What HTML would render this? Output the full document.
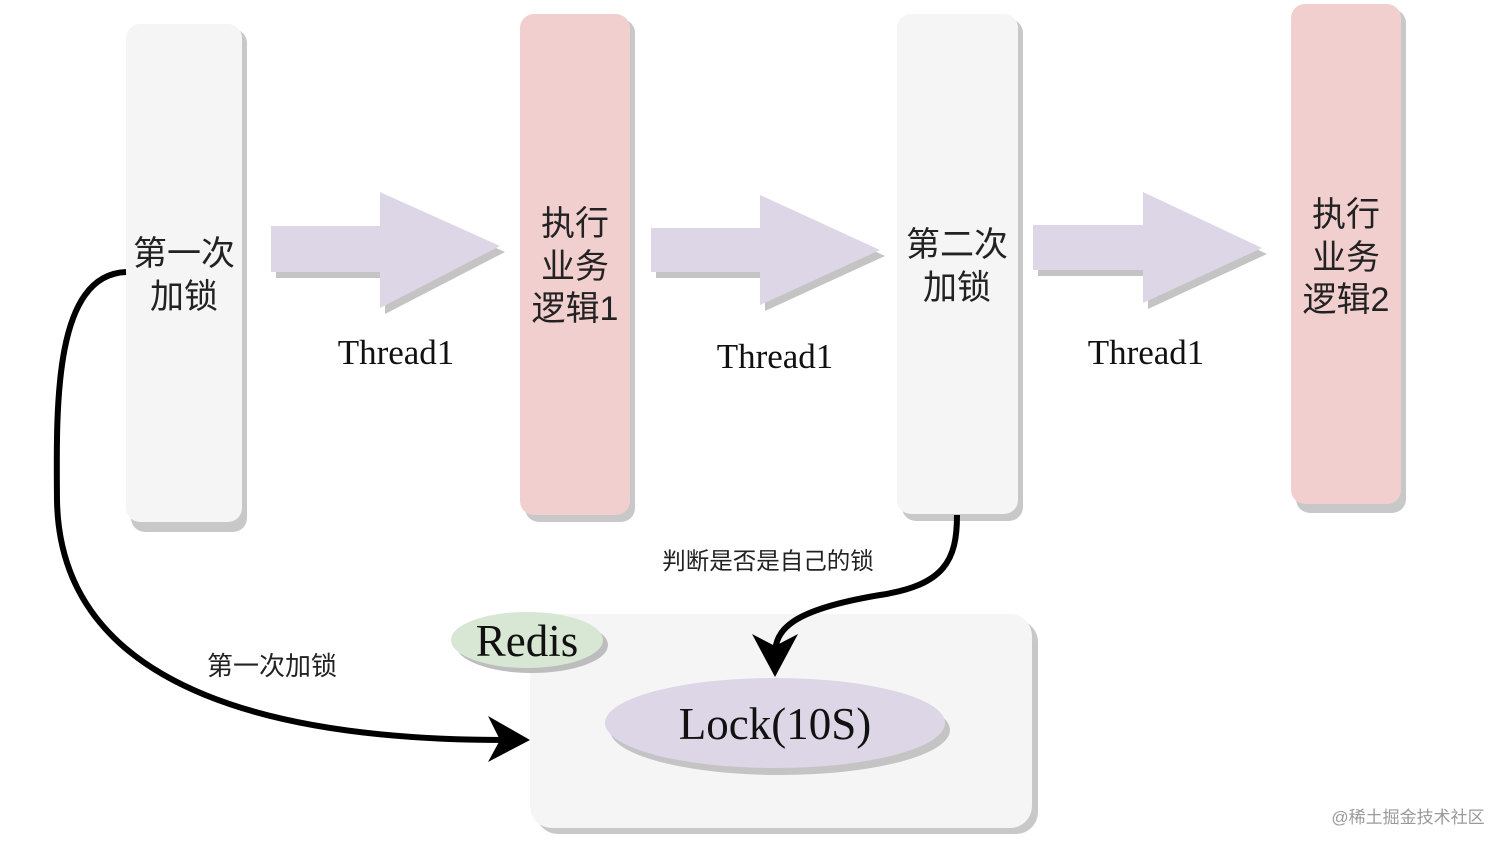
<!DOCTYPE html>
<html><head><meta charset="utf-8"><style>
html,body{margin:0;padding:0;background:#fff;}
svg{display:block;}
.cn{font-family:"Liberation Sans","Noto Sans CJK SC",sans-serif;fill:#222;}
.sf{font-family:"Liberation Serif","Noto Serif CJK SC",serif;fill:#111;}
</style></head><body>
<svg width="1512" height="851" viewBox="0 0 1512 851" xmlns="http://www.w3.org/2000/svg">
<rect x="131" y="29" width="116" height="503" rx="14" fill="#c8c8c8"/>
<rect x="126" y="24" width="116" height="498" rx="14" fill="#f5f5f5"/>
<rect x="525" y="19" width="110" height="503" rx="14" fill="#c8c8c8"/>
<rect x="520" y="14" width="110" height="501" rx="14" fill="#f2cfcf"/>
<rect x="902" y="19" width="121" height="502" rx="14" fill="#c8c8c8"/>
<rect x="897" y="14" width="121" height="500" rx="14" fill="#f5f5f5"/>
<rect x="1296" y="9" width="110" height="504" rx="14" fill="#c8c8c8"/>
<rect x="1291" y="4" width="110" height="500" rx="14" fill="#f2cfcf"/>

<g transform="translate(5,6)" fill="#c4c4c4">
<polygon points="271,226 380,226 380,192 500,246 380,308 380,272 271,272"/>
<polygon points="651,228 760,228 760,195 880,250 760,305 760,272 651,272"/>
<polygon points="1033,225 1143,225 1143,192 1262,248 1143,303 1143,270 1033,270"/>
</g>
<g fill="#ddd6e6">
<polygon points="271,226 380,226 380,192 500,246 380,308 380,272 271,272"/>
<polygon points="651,228 760,228 760,195 880,250 760,305 760,272 651,272"/>
<polygon points="1033,225 1143,225 1143,192 1262,248 1143,303 1143,270 1033,270"/>
</g>

<g class="cn" font-size="34" text-anchor="middle">
<text x="184" y="265">第一次</text><text x="184" y="308">加锁</text>
<text x="575" y="235">执行</text><text x="575" y="278">业务</text><text x="575" y="320">逻辑1</text>
<text x="957" y="256">第二次</text><text x="957" y="299">加锁</text>
<text x="1346" y="226">执行</text><text x="1346" y="269">业务</text><text x="1346" y="311">逻辑2</text>
</g>
<g class="sf" font-size="35" text-anchor="middle">
<text x="396" y="364">Thread1</text>
<text x="775" y="368">Thread1</text>
<text x="1146" y="364">Thread1</text>
</g>

<rect x="536" y="620" width="502" height="214" rx="22" fill="#c8c8c8"/>
<rect x="530" y="614" width="502" height="214" rx="22" fill="#f5f5f5"/>
<ellipse cx="532" cy="645" rx="76" ry="28" fill="#bdbdbd"/>
<ellipse cx="527" cy="640" rx="76" ry="28" fill="#d8e6d4"/>
<text class="sf" x="527" y="656" font-size="45" text-anchor="middle" fill="#2a3a2a">Redis</text>
<ellipse cx="780" cy="730" rx="170" ry="45" fill="#c4c4c4"/>
<ellipse cx="775" cy="723" rx="170" ry="45" fill="#ddd6e6"/>
<text class="sf" x="775" y="739" font-size="45" text-anchor="middle">Lock(10S)</text>

<path d="M126,272 C 55,275 56,400 57,500 C 60,700 300,740 505,740" fill="none" stroke="#000" stroke-width="6"/>
<polygon points="530,740 488,716 500,740 488,762" fill="#000"/>
<path d="M957,515 C 957,560 945,585 880,595 C 790,610 775,630 775,655" fill="none" stroke="#000" stroke-width="6"/>
<polygon points="775,677 752,634 775,646 798,634" fill="#000"/>

<text class="cn" x="272" y="675" font-size="26" text-anchor="middle">第一次加锁</text>
<text class="cn" x="768" y="569" font-size="23.5" text-anchor="middle">判断是否是自己的锁</text>
<text class="cn" x="1408" y="823" font-size="17" text-anchor="middle" style="fill:#9a9a9a">@稀土掘金技术社区</text>
</svg>
</body></html>
